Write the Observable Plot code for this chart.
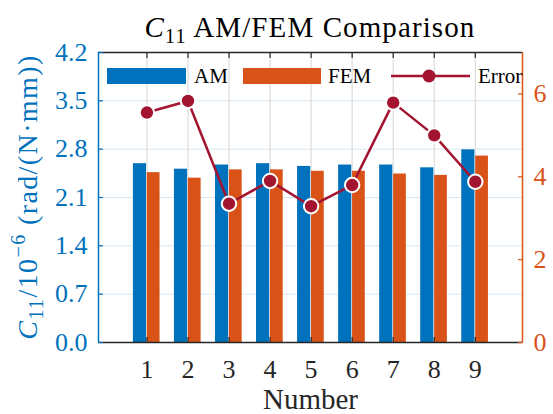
<!DOCTYPE html>
<html><head><meta charset="utf-8">
<script src="https://cdn.jsdelivr.net/npm/d3@7"></script>
<script src="https://cdn.jsdelivr.net/npm/@observablehq/plot@0.6"></script>
<style>
html,body{margin:0;padding:0;background:#fff;}
#chart{position:relative;width:553px;height:414px;}
#chart svg, #chart svg text, #chart svg tspan { font-family: 'Liberation Serif', 'Times New Roman', serif !important; font-variant-numeric: normal !important; }
</style></head><body><div id="chart"></div>
<script>
const numbers = [1, 2, 3, 4, 5, 6, 7, 8, 9];
const amValues = [2.59, 2.51, 2.57, 2.59, 2.55, 2.57, 2.57, 2.53, 2.79];
const femValues = [2.46, 2.38, 2.50, 2.50, 2.48, 2.48, 2.44, 2.42, 2.70];
const errorValues = [5.55, 5.83, 3.35, 3.90, 3.29, 3.80, 5.79, 5.00, 3.88];
const leftTicks = [0, 0.7, 1.4, 2.1, 2.8, 3.5, 4.2];
const rightTicks = [0, 2, 4, 6];
const seriesNames = ["AM", "FEM", "Error"];
const colors = {AM: "#0072BD", FEM: "#D95319", Error: "#A2142F"};
const xDomain = [-0.18, 10.15], yDomain = [0, 4.2], errDomain = [0, 7];
const k = yDomain[1] / errDomain[1];
const rows = numbers.map((n, i) => ({n, am: amValues[i], fem: femValues[i], err: errorValues[i]}));
const axisColor = "#262626";
const FONT = "Liberation Serif";

const plot = Plot.plot({
  width: 553, height: 414, marginLeft: 98, marginRight: 31, marginTop: 52, marginBottom: 72,
  style: {fontFamily: FONT, fontSize: "26px", background: "#fff", overflow: "visible"},
  x: {type: "linear", domain: xDomain, axis: null, label: null},
  y: {domain: yDomain, axis: null, label: null},
  marks: [
    Plot.gridY(leftTicks, {stroke: "#d6e6f3", strokeOpacity: 1, strokeWidth: 1}),
    Plot.gridX(numbers, {stroke: "#dcdcdc", strokeOpacity: 1, strokeWidth: 1.2}),
    Plot.rectY(rows, {x1: d => d.n - 0.33, x2: d => d.n - 0.01, y1: 0, y2: "am", fill: colors.AM}),
    Plot.rectY(rows, {x1: d => d.n + 0.01, x2: d => d.n + 0.32, y1: 0, y2: "fem", fill: colors.FEM}),
    Plot.line(rows, {x: "n", y: d => d.err * k, stroke: colors.Error, strokeWidth: 2.5}),
    Plot.dot(rows, {x: "n", y: d => d.err * k, r: 7.2, fill: colors.Error, stroke: "white", strokeWidth: 2}),
    Plot.ruleY([yDomain[0]], {stroke: axisColor, strokeWidth: 1.5}),
    Plot.ruleY([yDomain[1]], {stroke: axisColor, strokeWidth: 1.5}),
    Plot.ruleX([xDomain[0]], {stroke: colors.AM, strokeWidth: 1.5}),
    Plot.ruleX([xDomain[1]], {stroke: colors.FEM, strokeWidth: 1.5}),
    Plot.axisX(numbers, {anchor: "bottom", label: null, tickSize: -5, fill: "none", stroke: axisColor, strokeWidth: 1.2}),
    Plot.axisX(numbers, {anchor: "top", label: null, tickSize: -5, fill: "none", stroke: axisColor, strokeWidth: 1.2}),
    Plot.axisX(numbers, {anchor: "bottom", label: null, tickSize: 0, tickPadding: 17, fill: axisColor, fontSize: 26, fontFamily: FONT, tickFormat: d => String(d)}),
    Plot.axisY(leftTicks, {anchor: "left", label: null, tickSize: -5, fill: "none", stroke: colors.AM, strokeWidth: 1.2}),
    Plot.axisY(leftTicks, {anchor: "left", label: null, tickSize: 0, tickPadding: 11, fill: colors.AM, fontSize: 26, fontFamily: FONT, tickFormat: d3.format(".1f")}),
    Plot.axisY(rightTicks.map(v => v * k), {anchor: "right", label: null, tickSize: -5, fill: "none", stroke: colors.FEM, strokeWidth: 1.2}),
    Plot.axisY(rightTicks.map(v => v * k), {anchor: "right", label: null, tickSize: 0, tickPadding: 11, fill: colors.FEM, fontSize: 26, fontFamily: FONT, tickFormat: d => String(Math.round(d / k))})
  ]
});
document.getElementById("chart").appendChild(plot);

const svg = d3.select(plot);
function richText(sel, segs) {
  segs.forEach(s => {
    const t = sel.append("tspan").text(s.t);
    if (s.italic) t.attr("font-style", "italic");
    if (s.size) t.attr("font-size", s.size);
    if (s.dy) t.attr("dy", s.dy);
  });
}
// title
richText(svg.append("text").attr("x", 310).attr("y", 37).attr("text-anchor", "middle")
  .attr("font-size", 29).attr("fill", "#000").attr("letter-spacing", 1.1),
  [{t: "C", italic: true}, {t: "11", size: 20, dy: 6}, {t: " AM/FEM Comparison", size: 29, dy: -6}]);
// y label
richText(svg.append("text").attr("transform", "translate(37,197) rotate(-90)").attr("text-anchor", "middle")
  .attr("font-size", 28).attr("fill", colors.AM).attr("letter-spacing", 1.4),
  [{t: "C", italic: true}, {t: "11", size: 20, dy: 6}, {t: "/10", size: 28, dy: -6},
   {t: "−6", size: 20, dy: -12}, {t: " (rad/(N·mm))", size: 28, dy: 12}]);
// x label
svg.append("text").attr("x", 310.5).attr("y", 409).attr("text-anchor", "middle")
  .attr("font-size", 29).attr("fill", axisColor).text("Number");
// legend
const lg = svg.append("g").attr("font-size", 21).attr("fill", "#000").attr("text-anchor", "start");
lg.append("rect").attr("x", 107).attr("y", 68).attr("width", 79).attr("height", 16).attr("fill", colors.AM);
lg.append("text").attr("x", 194).attr("y", 83).text(seriesNames[0]);
lg.append("rect").attr("x", 243).attr("y", 68).attr("width", 78).attr("height", 16).attr("fill", colors.FEM);
lg.append("text").attr("x", 328).attr("y", 83).text(seriesNames[1]);
lg.append("line").attr("x1", 391).attr("x2", 470).attr("y1", 76).attr("y2", 76).attr("stroke", colors.Error).attr("stroke-width", 2.5);
lg.append("circle").attr("cx", 429).attr("cy", 76).attr("r", 6.5).attr("fill", colors.Error);
lg.append("text").attr("x", 478).attr("y", 83).text(seriesNames[2]);
</script></body></html>
